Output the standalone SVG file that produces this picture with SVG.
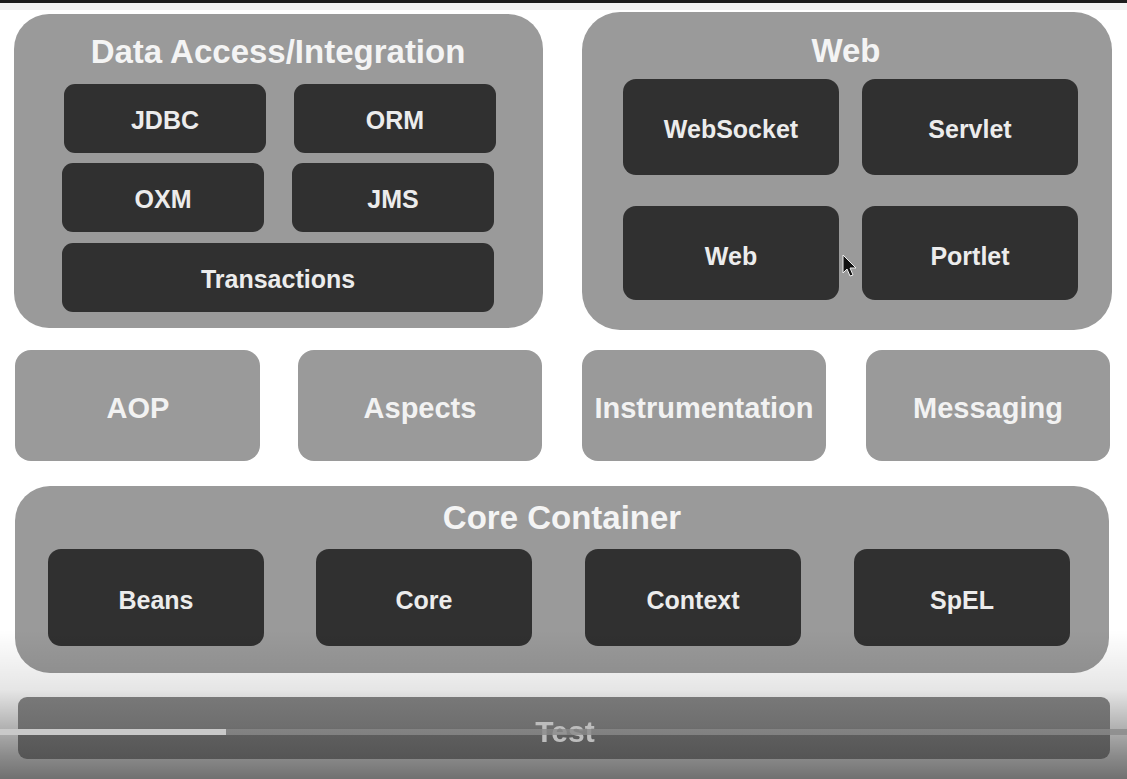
<svg xmlns="http://www.w3.org/2000/svg" width="1127" height="779" viewBox="0 0 1127 779">
  <style>
    .group { fill: #9a9a9a; }
    .module { fill: #9a9a9a; }
    .inner { fill: #303030; }
    .title { font-family: "Liberation Sans", Arial, sans-serif; font-weight: bold; font-size: 33px; fill: #f4f4f4; text-anchor: middle; }
    .mid { font-family: "Liberation Sans", Arial, sans-serif; font-weight: bold; font-size: 29px; fill: #f2f2f2; text-anchor: middle; }
    .lbl { font-family: "Liberation Sans", Arial, sans-serif; font-weight: bold; font-size: 25px; fill: #ececec; text-anchor: middle; }
    .test { font-family: "Liberation Sans", Arial, sans-serif; font-weight: bold; font-size: 30px; fill: #bdbdbd; text-anchor: middle; }
  </style>
  <defs>
    <linearGradient id="shade" gradientUnits="userSpaceOnUse" x1="0" y1="630" x2="0" y2="779">
      <stop offset="0" stop-color="#000" stop-opacity="0"/>
      <stop offset="0.4" stop-color="#000" stop-opacity="0.1"/>
      <stop offset="0.85" stop-color="#000" stop-opacity="0.46"/>
      <stop offset="1" stop-color="#000" stop-opacity="0.56"/>
    </linearGradient>
    <linearGradient id="testFill" x1="0" y1="0" x2="0" y2="1">
      <stop offset="0" stop-color="#787878"/>
      <stop offset="0.5" stop-color="#6e6e6e"/>
      <stop offset="0.6" stop-color="#5e5e5e"/>
      <stop offset="1" stop-color="#555555"/>
    </linearGradient>
    <filter id="soft" x="-10%" y="-30%" width="120%" height="160%">
      <feGaussianBlur stdDeviation="0.7"/>
    </filter>
  </defs>

  <!-- page background and top edge -->
  <rect x="0" y="0" width="1127" height="779" fill="#ffffff"/>
  <rect x="0" y="0" width="1127" height="10" fill="#f4f4f4"/>
  <rect x="0" y="0" width="1127" height="3" fill="#1e1e1e"/>

  <!-- Data Access / Integration -->
  <g id="data-access">
    <rect class="group" x="14" y="14" width="529" height="314" rx="35"/>
    <text class="title" x="278" y="63">Data Access/Integration</text>
    <g id="jdbc"><rect class="inner" x="64" y="84" width="202" height="69" rx="11"/><text class="lbl" x="165" y="129">JDBC</text></g>
    <g id="orm"><rect class="inner" x="294" y="84" width="202" height="69" rx="11"/><text class="lbl" x="395" y="129">ORM</text></g>
    <g id="oxm"><rect class="inner" x="62" y="163" width="202" height="69" rx="11"/><text class="lbl" x="163" y="208">OXM</text></g>
    <g id="jms"><rect class="inner" x="292" y="163" width="202" height="69" rx="11"/><text class="lbl" x="393" y="208">JMS</text></g>
    <g id="transactions"><rect class="inner" x="62" y="243" width="432" height="69" rx="11"/><text class="lbl" x="278" y="288">Transactions</text></g>
  </g>

  <!-- Web -->
  <g id="web">
    <rect class="group" x="582" y="12" width="530" height="318" rx="38"/>
    <text class="title" x="846" y="62">Web</text>
    <g id="websocket"><rect class="inner" x="623" y="79" width="216" height="96" rx="13"/><text class="lbl" x="731" y="138">WebSocket</text></g>
    <g id="servlet"><rect class="inner" x="862" y="79" width="216" height="96" rx="13"/><text class="lbl" x="970" y="138">Servlet</text></g>
    <g id="web-module"><rect class="inner" x="623" y="206" width="216" height="94" rx="13"/><text class="lbl" x="731" y="265">Web</text></g>
    <g id="portlet"><rect class="inner" x="862" y="206" width="216" height="94" rx="13"/><text class="lbl" x="970" y="265">Portlet</text></g>
  </g>

  <!-- middle row of modules -->
  <g id="aop"><rect class="module" x="15" y="350" width="245" height="111" rx="16"/><text class="mid" x="138" y="418">AOP</text></g>
  <g id="aspects"><rect class="module" x="298" y="350" width="244" height="111" rx="16"/><text class="mid" x="420" y="418">Aspects</text></g>
  <g id="instrumentation"><rect class="module" x="582" y="350" width="244" height="111" rx="16"/><text class="mid" x="704" y="418">Instrumentation</text></g>
  <g id="messaging"><rect class="module" x="866" y="350" width="244" height="111" rx="16"/><text class="mid" x="988" y="418">Messaging</text></g>

  <!-- Core Container -->
  <g id="core-container">
    <rect class="group" x="15" y="486" width="1094" height="187" rx="35"/>
    <text class="title" x="562" y="529">Core Container</text>
    <g id="beans"><rect class="inner" x="48" y="549" width="216" height="97" rx="13"/><text class="lbl" x="156" y="609">Beans</text></g>
    <g id="core"><rect class="inner" x="316" y="549" width="216" height="97" rx="13"/><text class="lbl" x="424" y="609">Core</text></g>
    <g id="context"><rect class="inner" x="585" y="549" width="216" height="97" rx="13"/><text class="lbl" x="693" y="609">Context</text></g>
    <g id="spel"><rect class="inner" x="854" y="549" width="216" height="97" rx="13"/><text class="lbl" x="962" y="609">SpEL</text></g>
  </g>

  <!-- bottom shading -->
  <rect x="0" y="630" width="1127" height="149" fill="url(#shade)"/>

  <!-- Test -->
  <g id="test">
    <rect x="18" y="697" width="1092" height="62" rx="9" fill="url(#testFill)"/>
    <text class="test" x="565" y="742" filter="url(#soft)">Test</text>
  </g>

  <!-- progress line -->
  <g id="connectors"/>
  <rect x="0" y="729" width="1127" height="6" fill="#8a8a8a" fill-opacity="0.8"/>
  <rect x="0" y="729" width="226" height="6" fill="#c9c9c9"/>

  <!-- pointer -->
  <path d="M843,255 L843,273 L847,269 L850,276 L853,275 L850,268 L856,268 Z" fill="#111" stroke="#eee" stroke-width="1"/>
</svg>
